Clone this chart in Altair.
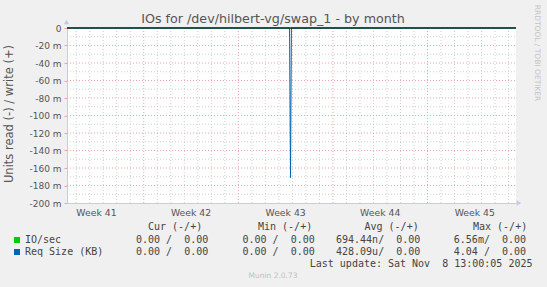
import altair as alt
import pandas as pd

# ---------------- data ----------------
TITLE = "IOs for /dev/hilbert-vg/swap_1 - by month"
Y_TITLE = "Units read (-) / write (+)"
SIDE_TEXT = "RRDTOOL / TOBI OETIKER"
FOOTER = "Munin 2.0.73"
LAST_UPDATE = "Last update: Sat Nov  8 13:00:05 2025"

# x in days since Mon 13 Oct 2025 00:00 (start of week 42)
x_domain = [-5.68, 27.55]
week_labels = ["Week 41", "Week 42", "Week 43", "Week 44", "Week 45"]
week_centers = [-3.5, 3.5, 10.5, 17.5, 24.5]
week_starts = [0, 7, 14, 21]
day_lines = [-5, -4, -3, -2, -1, 1, 2, 3, 4, 5, 6, 8, 9, 10, 11, 12, 13,
             15, 16, 17, 18, 19, 20, 22, 23, 24, 25, 26, 27]

# y in milli-units
y_domain = [-200, 0]
y_ticks = [0, -20, -40, -60, -80, -100, -120, -140, -160, -180, -200]
y_major_grid = [-20, -40, -60, -80, -100, -120, -140, -160, -180]
y_minor_grid = [-10, -30, -50, -70, -90, -110, -130, -150, -170, -190]

# series: Req Size (KB), read side (negative), milli-units
req_days = [-5.68, 10.79, 10.86, 10.93, 27.55]
req_read = [0, 0, -171, 0, 0]
# IO/sec read side
io_days = [-5.68, 27.55]
io_read = [0, 0]

# legend table
series_names = ["IO/sec", "Req Size (KB)"]
series_colors = ["#00cc00", "#0066b3"]
headers = ["Cur (-/+)", "Min (-/+)", "Avg (-/+)", "Max (-/+)"]
cur_vals = ["0.00 /  0.00", "0.00 /  0.00"]
min_vals = ["0.00 /  0.00", "0.00 /  0.00"]
avg_vals = ["694.44n/  0.00", "428.09u/  0.00"]
max_vals = ["6.56m/  0.00", "4.04 /  0.00"]

# ---------------- chart ----------------
W, H = 449, 175
OX, OY = 67, 28  # plot origin in page pixels
FONT = "DejaVu Sans"
MONO = "DejaVu Sans Mono"
TXT = "#555555"

xs = alt.Scale(domain=x_domain, nice=False, zero=False)
ys = alt.Scale(domain=y_domain, nice=False, zero=False)

x_axis = alt.Axis(values=week_starts, labels=False, ticks=False, grid=False,
                  domainColor="#c8c8f0", domainWidth=1, title=None)
y_axis = alt.Axis(values=y_ticks,
                  labelExpr="datum.value == 0 ? '0' : datum.value + ' m'",
                  grid=False, ticks=True, tickColor="#eba5a5", tickSize=3,
                  labelPadding=3, labelFont=FONT, labelFontSize=9,
                  labelColor=TXT, domainColor="#c8c8f0", domainWidth=1,
                  title=None)


def X(f):
    return alt.X(f, scale=xs, axis=x_axis)


def Y(f):
    return alt.Y(f, scale=ys, axis=y_axis)


def nb(s):
    return s.replace("  ", "\u00a0 ")


one = pd.DataFrame({"k": [0]})


def label(text, ax, ay, size=10, font=MONO, color="#444444", align="left",
          angle=0, baseline="middle"):
    return alt.Chart(one).mark_text(
        text=nb(text), font=font, fontSize=size, color=color, align=align,
        baseline=baseline, angle=angle
    ).encode(x=alt.value(ax - OX), y=alt.value(ay - OY))


minor_v = alt.Chart(pd.DataFrame({"d": day_lines})).mark_rule(
    color="#d0d0d0", strokeDash=[1, 2], strokeWidth=1
).encode(x=X("d:Q"), y=alt.value(0), y2=alt.value(H))

minor_h = alt.Chart(pd.DataFrame({"v": y_minor_grid})).mark_rule(
    color="#d0d0d0", strokeDash=[1, 2], strokeWidth=1
).encode(y=Y("v:Q"), x=alt.value(0), x2=alt.value(W))

major_v = alt.Chart(pd.DataFrame({"d": week_starts})).mark_rule(
    color="#eba5a5", strokeDash=[1, 2], strokeWidth=1
).encode(x=X("d:Q"), y=alt.value(0), y2=alt.value(H))

major_h = alt.Chart(pd.DataFrame({"v": y_major_grid})).mark_rule(
    color="#eba5a5", strokeDash=[1, 2], strokeWidth=1
).encode(y=Y("v:Q"), x=alt.value(0), x2=alt.value(W))

io_line = alt.Chart(pd.DataFrame({"d": io_days, "v": io_read})).mark_line(
    color="#00cc00", strokeWidth=1
).encode(x=X("d:Q"), y=Y("v:Q"))

req_line = alt.Chart(pd.DataFrame({"d": req_days, "v": req_read})).mark_line(
    color="#0066b3", strokeWidth=1
).encode(x=X("d:Q"), y=Y("v:Q"))

zero_line = alt.Chart(pd.DataFrame({"v": [0]})).mark_rule(
    color="#000000", strokeWidth=1.2
).encode(y=Y("v:Q"), x=alt.value(0), x2=alt.value(W))

week_text = alt.Chart(pd.DataFrame({"c": week_centers, "t": week_labels})).mark_text(
    font=FONT, fontSize=9.3, color=TXT, baseline="middle"
).encode(x=X("c:Q"), y=alt.value(213 - OY), text="t:N")

arrow_up = alt.Chart(one).mark_point(
    shape="triangle-up", filled=True, size=30, color="#c8c8f0", opacity=1
).encode(x=alt.value(-0.5), y=alt.value(-6))
arrow_right = alt.Chart(one).mark_point(
    shape="triangle-right", filled=True, size=30, color="#c8c8f0", opacity=1
).encode(x=alt.value(W + 3), y=alt.value(H))

layers = [minor_v, minor_h, major_v, major_h, io_line, req_line, zero_line,
          week_text, arrow_up, arrow_right]

# titles
layers.append(label(TITLE, 273, 19, size=12.7, font=FONT, color=TXT, align="center"))
layers.append(label(Y_TITLE, 10, 114, size=11.5, font=FONT, color=TXT,
                    align="center", angle=270))
layers.append(label(SIDE_TEXT, 537, 53, size=7.5, font=FONT, color="#c4c4c4",
                    align="center", angle=90))
layers.append(label(FOOTER, 273, 276, size=7.5, font=FONT, color="#c0c0c0",
                    align="center"))

# legend
header_x = [148, 258, 364.5, 473]
col_x = [136, 242.5, 336, 453.8]
row_y = [240, 252]
for hx, h in zip(header_x, headers):
    layers.append(label(h, hx, 227.3))
cols = [cur_vals, min_vals, avg_vals, max_vals]
for i, (nm, colr) in enumerate(zip(series_names, series_colors)):
    layers.append(alt.Chart(one).mark_square(size=36, color=colr, opacity=1).encode(
        x=alt.value(17 - OX), y=alt.value(row_y[i] - OY)))
    layers.append(label(nm, 25, row_y[i]))
    for cx, vals in zip(col_x, cols):
        layers.append(label(vals[i], cx, row_y[i]))
layers.append(label(LAST_UPDATE, 532.5, 263.5, align="right"))

chart = alt.layer(*layers).properties(
    width=W, height=H,
    padding={"left": OX, "top": OY, "right": 547 - OX - W, "bottom": 287 - OY - H},
    autosize=alt.AutoSizeParams(type="none"),
    background="#f0f0f0",
).configure_view(fill="white", stroke=None)

chart.save("out.html", embed_options={"renderer": "svg", "actions": False})
